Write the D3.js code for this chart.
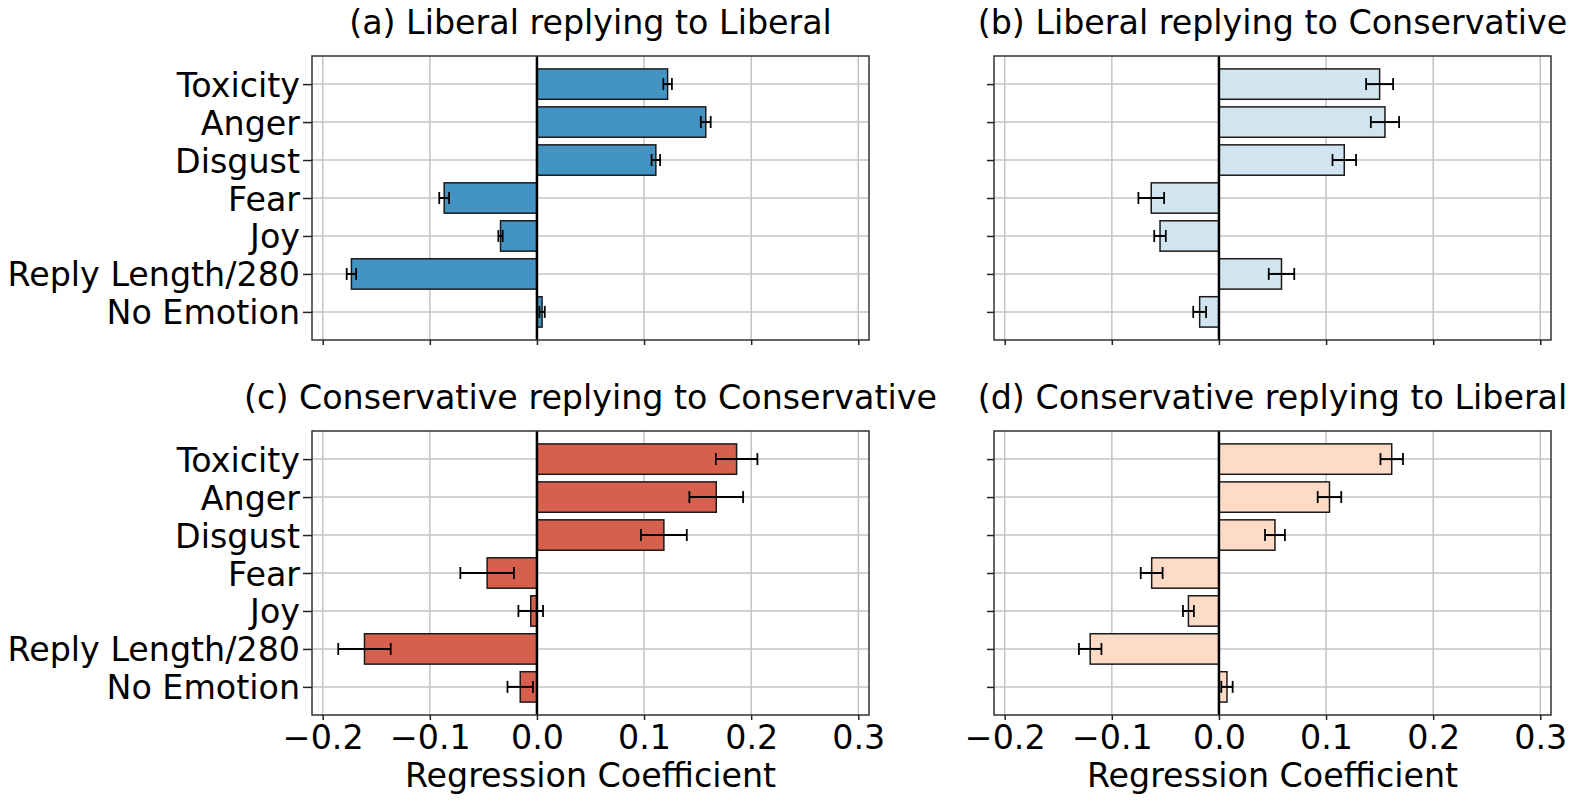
<!DOCTYPE html>
<html>
<head>
<meta charset="utf-8">
<script src="https://cdn.jsdelivr.net/npm/d3@7"></script>
<style>
  body { margin: 0; background: #fff; }
  svg { font-family: "DejaVu Sans", sans-serif; }
</style>
</head>
<body>
<svg width="1578" height="805"></svg>
<script>
// categories, top to bottom
var categories = ["Toxicity", "Anger", "Disgust", "Fear", "Joy", "Reply Length/280", "No Emotion"];
var xTicks = [-0.2, -0.1, 0.0, 0.1, 0.2, 0.3];

// (a) Liberal replying to Liberal
var libLibCoef = [0.122, 0.1576, 0.111, -0.0866, -0.034, -0.1732, 0.0048];
var libLibErr  = [0.004, 0.0046, 0.004, 0.0046, 0.002, 0.0044, 0.0025];
// (b) Liberal replying to Conservative
var libConCoef = [0.150, 0.155, 0.117, -0.0632, -0.055, 0.0584, -0.018];
var libConErr  = [0.0126, 0.0132, 0.011, 0.012, 0.0054, 0.0119, 0.006];
// (c) Conservative replying to Conservative
var conConCoef = [0.1864, 0.1674, 0.1185, -0.0465, -0.0058, -0.161, -0.0156];
var conConErr  = [0.0194, 0.0251, 0.0214, 0.025, 0.0115, 0.0245, 0.0119];
// (d) Conservative replying to Liberal
var conLibCoef = [0.1613, 0.1032, 0.0523, -0.0628, -0.0285, -0.1202, 0.0075];
var conLibErr  = [0.0105, 0.011, 0.0093, 0.0102, 0.0051, 0.0105, 0.0053];

var titles = ["(a) Liberal replying to Liberal", "(b) Liberal replying to Conservative",
              "(c) Conservative replying to Conservative", "(d) Conservative replying to Liberal"];
var colors = ["#4393c3", "#d1e5f0", "#d6604d", "#fddbc7"];

var panels = [
  {coef: libLibCoef, err: libLibErr, left: 312, top: 56, ylabels: true, xlabels: false},
  {coef: libConCoef, err: libConErr, left: 994, top: 56, ylabels: false, xlabels: false},
  {coef: conConCoef, err: conConErr, left: 312, top: 431, ylabels: true, xlabels: true},
  {coef: conLibCoef, err: conLibErr, left: 994, top: 431, ylabels: false, xlabels: true}
];

var svg = d3.select("svg");
var width = 557, height = 284;
var fontSize = 33.3;

var drawPanel = function(p, k)
{
  var g = svg.append("g").attr("transform", "translate(" + p.left + "," + p.top + ")");

  var xScale = d3.scaleLinear().domain([-0.21, 0.31]).range([0, width]);
  var yScale = d3.scaleLinear().domain([-0.74, 6.74]).range([0, height]);
  var barH = yScale(0.4) - yScale(-0.4);

  var rows = categories.map(function(c, i) {
    return {name: c, i: i, v: p.coef[i], e: p.err[i]};
  });

  // grid
  g.selectAll(".gx").data(xTicks).enter().append("line")
   .attr("x1", function(d) { return xScale(d); })
   .attr("x2", function(d) { return xScale(d); })
   .attr("y1", 0).attr("y2", height)
   .attr("stroke", "#c4c4c4").attr("stroke-width", 1.5);
  g.selectAll(".gy").data(rows).enter().append("line")
   .attr("x1", 0).attr("x2", width)
   .attr("y1", function(d) { return yScale(d.i); })
   .attr("y2", function(d) { return yScale(d.i); })
   .attr("stroke", "#c4c4c4").attr("stroke-width", 1.5);

  // bars
  g.selectAll("rect.bar").data(rows).enter().append("rect")
   .attr("class", "bar")
   .attr("x", function(d) { return xScale(Math.min(0, d.v)); })
   .attr("y", function(d) { return yScale(d.i) - barH / 2; })
   .attr("width", function(d) { return Math.abs(xScale(d.v) - xScale(0)); })
   .attr("height", barH)
   .attr("fill", colors[k])
   .attr("stroke", "#1a1a1a").attr("stroke-width", 1.5);

  // zero line
  g.append("line")
   .attr("x1", xScale(0)).attr("x2", xScale(0))
   .attr("y1", 0).attr("y2", height)
   .attr("stroke", "#000").attr("stroke-width", 2.5);

  // error bars
  var eb = g.selectAll("g.eb").data(rows).enter().append("g");
  eb.append("line")
    .attr("x1", function(d) { return xScale(d.v - d.e); })
    .attr("x2", function(d) { return xScale(d.v + d.e); })
    .attr("y1", function(d) { return yScale(d.i); })
    .attr("y2", function(d) { return yScale(d.i); })
    .attr("stroke", "#000").attr("stroke-width", 2);
  [-1, 1].forEach(function(s) {
    eb.append("line")
      .attr("x1", function(d) { return xScale(d.v + s * d.e); })
      .attr("x2", function(d) { return xScale(d.v + s * d.e); })
      .attr("y1", function(d) { return yScale(d.i) - 6; })
      .attr("y2", function(d) { return yScale(d.i) + 6; })
      .attr("stroke", "#000").attr("stroke-width", 1.8);
  });

  // spines
  g.append("rect").attr("x", 0).attr("y", 0).attr("width", width).attr("height", height)
   .attr("fill", "none").attr("stroke", "#333").attr("stroke-width", 1.5);

  // x axis
  var xAxis = d3.axisBottom(xScale).tickValues(xTicks)
                .tickFormat(p.xlabels ? d3.format(".1f") : "")
                .tickSizeInner(5).tickSizeOuter(0).tickPadding(5);
  var xa = g.append("g").attr("transform", "translate(0," + height + ")").call(xAxis);
  xa.select(".domain").remove();
  xa.selectAll("line").attr("stroke", "#222").attr("stroke-width", 1.5);
  xa.selectAll("text").attr("font-size", fontSize).attr("fill", "#000")
    .attr("font-family", "DejaVu Sans");

  // y axis
  var yAxis = d3.axisLeft(yScale).tickValues(d3.range(categories.length))
                .tickFormat(function(d) { return p.ylabels ? categories[d] : ""; })
                .tickSizeInner(p.ylabels ? 9 : 7).tickSizeOuter(0).tickPadding(3);
  var ya = g.append("g").call(yAxis);
  ya.select(".domain").remove();
  ya.selectAll("line").attr("stroke", "#222").attr("stroke-width", 1.5);
  ya.selectAll("text").attr("font-size", fontSize).attr("fill", "#000")
    .attr("font-family", "DejaVu Sans").attr("dy", "0.36em");

  // title
  g.append("text")
   .attr("x", width / 2).attr("y", -22)
   .attr("text-anchor", "middle")
   .attr("font-size", fontSize)
   .text(titles[k]);

  if (p.xlabels)
  {
    g.append("text")
     .attr("x", width / 2).attr("y", height + 72)
     .attr("text-anchor", "middle")
     .attr("font-size", fontSize)
     .text("Regression Coefficient");
  }
}

panels.forEach(function(p, k) { drawPanel(p, k); });
</script>
</body>
</html>
